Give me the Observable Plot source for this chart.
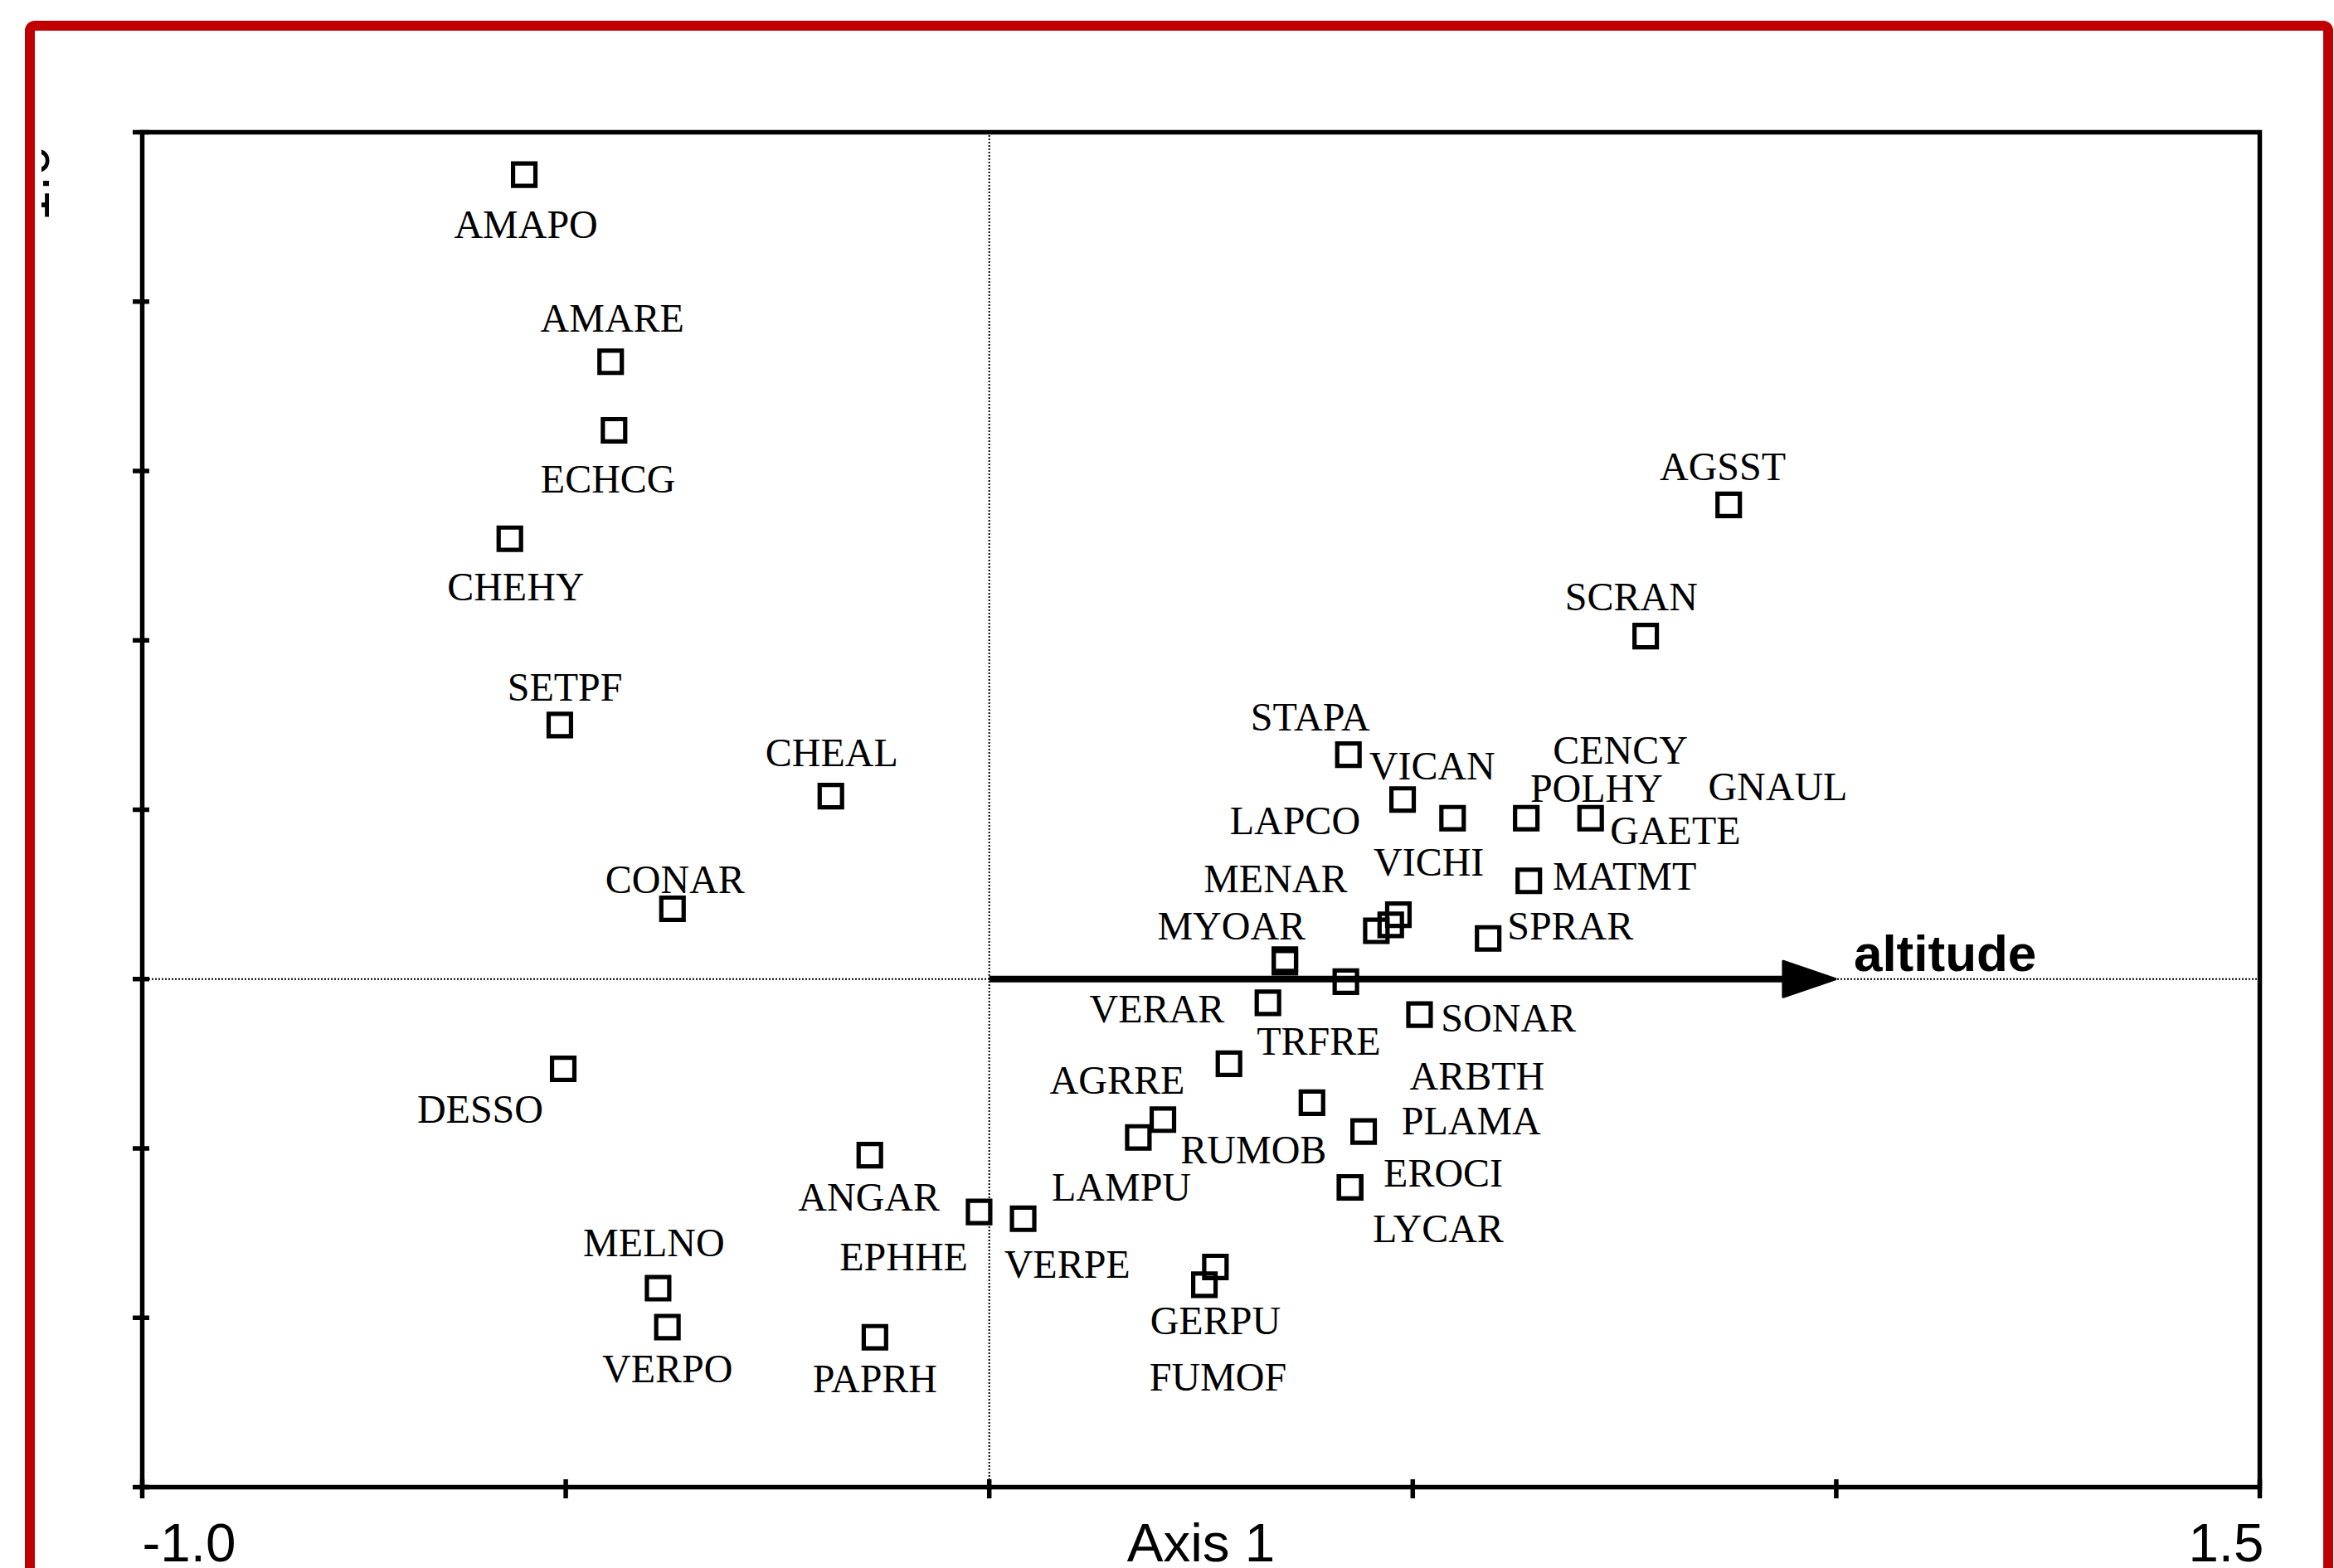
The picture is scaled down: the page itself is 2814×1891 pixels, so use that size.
<!DOCTYPE html>
<html><head><meta charset="utf-8">
<script src="https://cdn.jsdelivr.net/npm/d3@7"></script>
<script src="https://cdn.jsdelivr.net/npm/@observablehq/plot@0.6"></script>
<style>
html,body{margin:0;padding:0;overflow:hidden;background:#fff;width:2814px;height:1891px}
#frame{position:absolute;left:30px;top:25px;width:2783px;height:2000px;box-sizing:border-box;border:12px solid #C00000;border-radius:12px}
#clip{position:absolute;left:50px;top:0;width:2764px;height:1891px;overflow:hidden}
#chart{position:absolute;left:-50px;top:0}
</style></head><body>
<div id="frame"></div>
<div id="clip"><div id="chart"></div></div>
<script>
// Species scores (square markers) and their label positions, in axis units
const species = ["AMAPO","AMARE","ECHCG","CHEHY","SETPF","CHEAL","CONAR","DESSO","ANGAR","EPHHE",
  "VERPE","MELNO","VERPO","PAPRH","GERPU","FUMOF","LAMPU","AGRRE","RUMOB","TRFRE",
  "VERAR","ARBTH","PLAMA","EROCI","LYCAR","SONAR","SPRAR","MYOAR","MENAR","VICHI",
  "MATMT","LAPCO","STAPA","VICAN","CENCY","POLHY","GNAUL","GAETE","AGSST","SCRAN"];
const pointX = [-0.549,-0.447,-0.443,-0.566,-0.507,-0.187,-0.374,-0.503,-0.141,-0.012,
  0.040,-0.391,-0.380,-0.135,0.267,0.254,0.176,0.205,0.381,0.283,
  0.329,0.421,0.442,0.426,0.426,0.508,0.589,0.349,0.349,0.474,
  0.637,0.457,0.424,0.488,0.634,0.547,0.483,0.710,0.873,0.775];
const pointY = [0.950,0.729,0.648,0.520,0.300,0.216,0.083,-0.106,-0.208,-0.275,
  -0.283,-0.365,-0.411,-0.423,-0.340,-0.361,-0.187,-0.166,-0.146,-0.100,
  -0.028,-0.003,-0.180,-0.246,-0.246,-0.042,0.048,0.023,0.020,0.064,
  0.116,0.057,0.265,0.212,0.190,0.190,0.076,0.190,0.560,0.405];
const labelX = [-0.547,-0.445,-0.450,-0.559,-0.501,-0.186,-0.371,-0.601,-0.142,-0.101,
  0.092,-0.396,-0.380,-0.135,0.267,0.270,0.156,0.151,0.312,0.389,
  0.198,0.576,0.569,0.536,0.530,0.613,0.686,0.286,0.338,0.519,
  0.750,0.361,0.379,0.523,0.745,0.717,0.931,0.810,0.866,0.758];
const labelY = [0.890,0.780,0.590,0.462,0.344,0.266,0.117,-0.155,-0.258,-0.329,
  -0.338,-0.312,-0.461,-0.473,-0.404,-0.471,-0.247,-0.120,-0.203,-0.074,
  -0.036,-0.115,-0.168,-0.230,-0.296,-0.047,0.062,0.062,0.118,0.137,
  0.121,0.186,0.309,0.251,0.269,0.224,0.226,0.174,0.604,0.451];

// Environmental variable (biplot arrow)
const envName = ["altitude"];
const envX = [1.0];
const envY = [0.0];

// Axes
const xDomain = [-1.0, 1.5];
const yDomain = [-0.6, 1.0];
const xTicks = [-1.0, -0.5, 0.0, 0.5, 1.0, 1.5];
const yTicks = [-0.6, -0.4, -0.2, 0.0, 0.2, 0.4, 0.6, 0.8, 1.0];
const xAxisTexts = ["-1.0", "Axis 1", "1.5"];
const xAxisTextPos = [-1.0, 0.25, 1.5];
const yAxisTexts = ["1.0"];
const yAxisTextPos = [1.0];

const idx = d3.range(species.length);
const envIdx = d3.range(envName.length);

const arrowHead = {
  draw(ctx) {
    ctx.moveTo(-1, 0);
    ctx.lineTo(-64, -21.5);
    ctx.lineTo(-64, 21.5);
    ctx.closePath();
  }
};

const anchors = ["start", "middle", "end"];
const xTextMarks = xAxisTexts.map((t, i) => Plot.text([i], {
  x: (j) => xAxisTextPos[j], text: (j) => xAxisTexts[j],
  frameAnchor: "bottom", dy: 89, dx: i === 2 ? 5 : 0, lineAnchor: "bottom",
  textAnchor: anchors[i], fontFamily: "Liberation Sans, Arial, sans-serif", fontSize: 65.5, fill: "black"
}));

const chart = Plot.plot({
  width: 2814,
  height: 1891,
  marginLeft: 171,
  marginRight: 90,
  marginTop: 159,
  marginBottom: 98,
  x: {domain: xDomain, label: null},
  y: {domain: yDomain, label: null},
  style: {background: "transparent"},
  marks: [
    Plot.ruleX([0], {stroke: "black", strokeWidth: 2, strokeDasharray: "2,2"}),
    Plot.ruleY([0], {stroke: "black", strokeWidth: 2, strokeDasharray: "2,2"}),
    Plot.arrow(envIdx, {x1: 0, y1: 0, x2: (i) => envX[i], y2: (i) => envY[i],
      headLength: 0, insetEnd: 50, stroke: "black", strokeWidth: 8, strokeLinecap: "butt"}),
    Plot.dot(envIdx, {x: (i) => envX[i], y: (i) => envY[i], symbol: arrowHead,
      fill: "black", stroke: "black", strokeWidth: 3, strokeLinejoin: "round"}),
    Plot.dot(idx, {x: (i) => pointX[i], y: (i) => pointY[i], symbol: "square", r: 15.2,
      fill: "none", stroke: "black", strokeWidth: 5.2}),
    Plot.text(idx, {x: (i) => labelX[i], y: (i) => labelY[i], text: (i) => species[i],
      textAnchor: "middle", lineAnchor: "middle",
      fontFamily: "Liberation Serif, Times New Roman, serif", fontSize: 48, fill: "black"}),
    Plot.text(envIdx, {x: (i) => envX[i], y: (i) => envY[i], text: (i) => envName[i],
      dx: 21, dy: -10, textAnchor: "start", lineAnchor: "bottom",
      fontFamily: "Liberation Sans, Arial, sans-serif", fontWeight: "bold", fontSize: 62, fill: "black"}),
    ...xTextMarks,
    Plot.text([0], {y: (j) => yAxisTextPos[j], text: (j) => yAxisTexts[j],
      frameAnchor: "left", dx: -113, dy: 16, rotate: -90, textAnchor: "end", lineAnchor: "bottom",
      fontFamily: "Liberation Sans, Arial, sans-serif", fontSize: 65.5, fill: "black"}),
    Plot.axisX({ticks: xTicks, tickFormat: () => "", tickSize: 23, dy: -9, strokeWidth: 5.5, label: null, tickPadding: 0}),
    Plot.axisY({ticks: yTicks, tickFormat: () => "", tickSize: 20, dx: 9, strokeWidth: 5.5, label: null, tickPadding: 0}),
    Plot.frame({stroke: "black", strokeWidth: 5.5})
  ]
});
document.getElementById("chart").appendChild(chart);
</script>
</body></html>
